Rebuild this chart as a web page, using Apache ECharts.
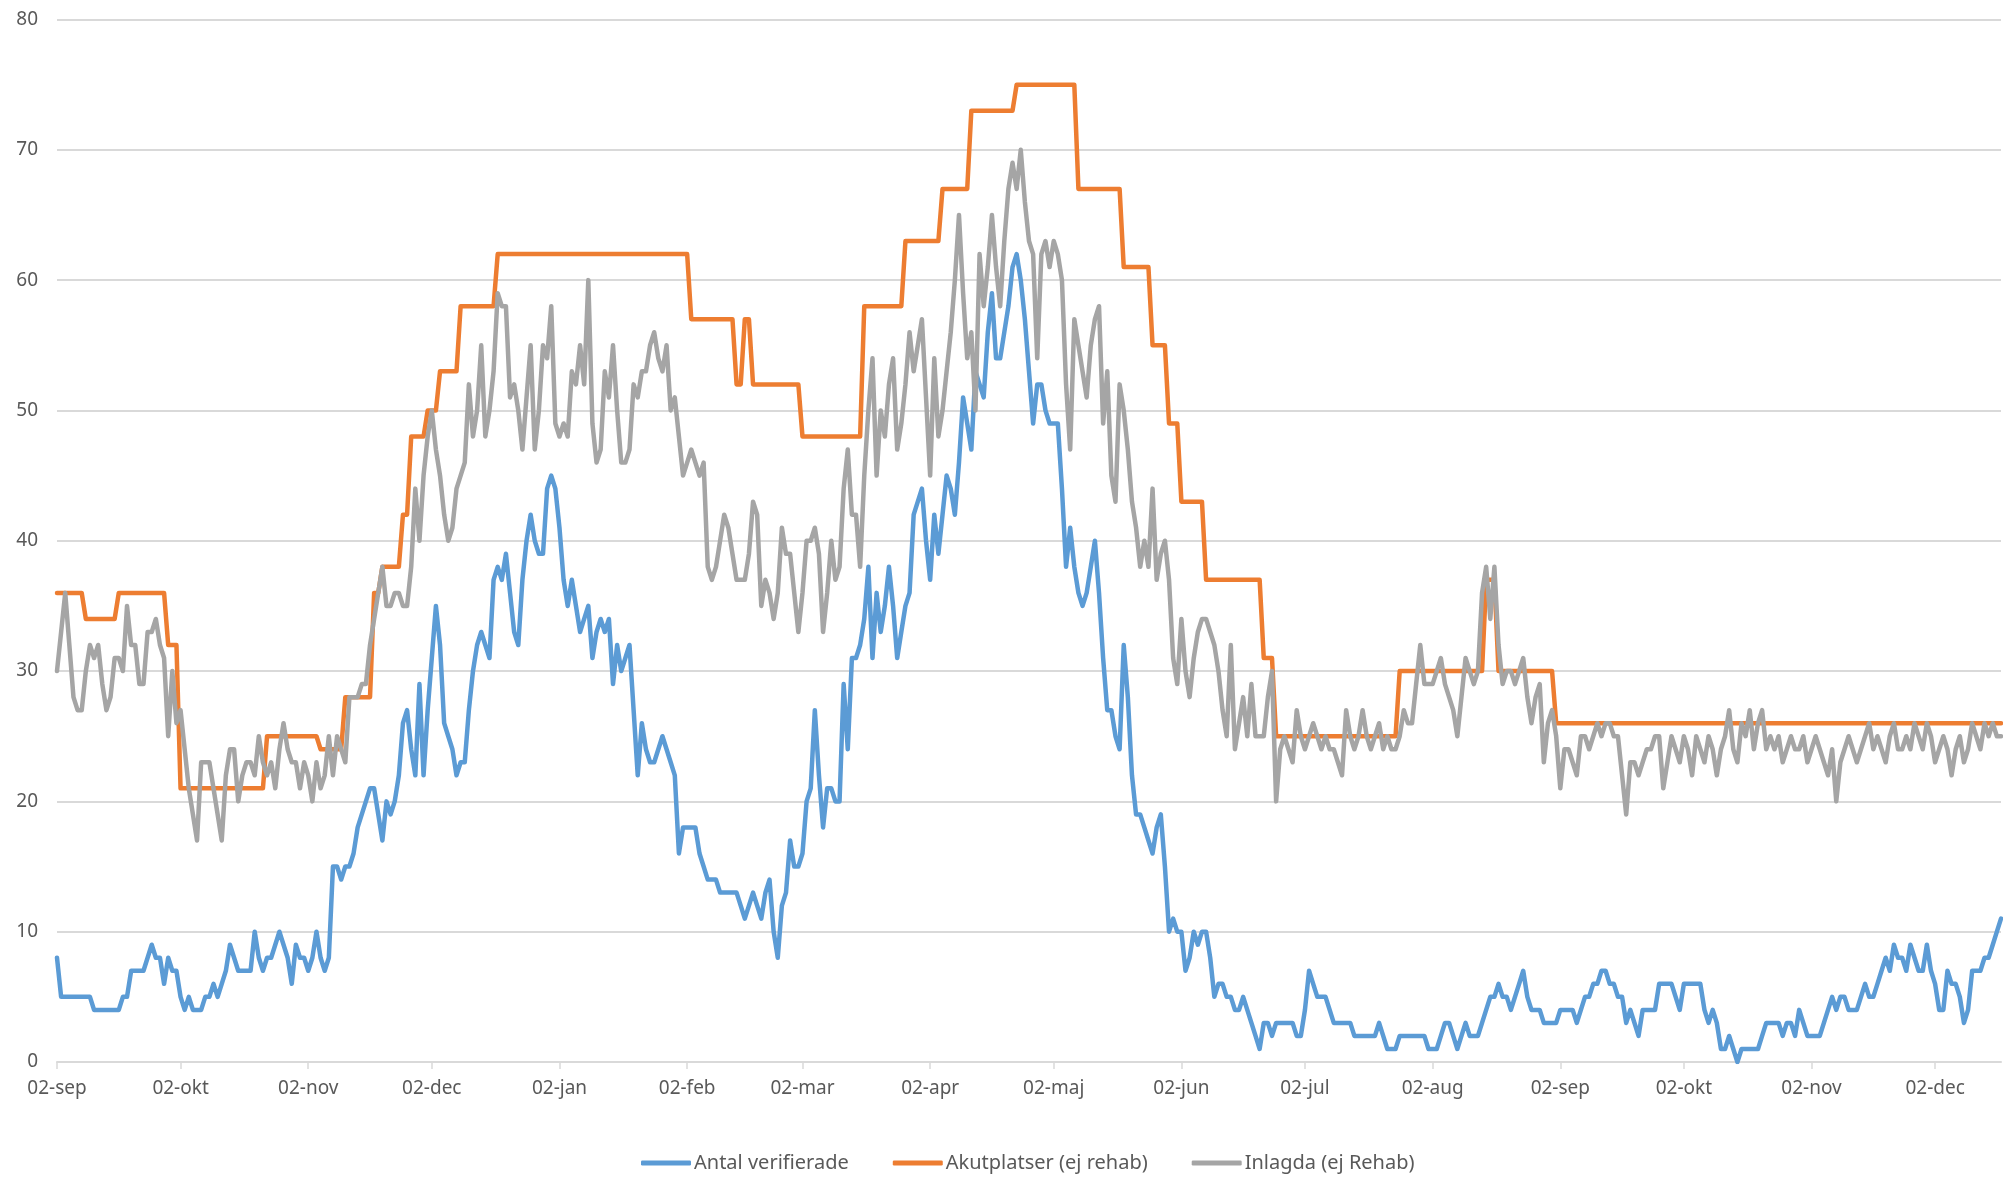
<!DOCTYPE html>
<html><head><meta charset="utf-8">
<script src="https://cdn.jsdelivr.net/npm/echarts@6/dist/echarts.min.js"></script>
<style>html,body{margin:0;padding:0;background:#fff}#c{width:2003px;height:1177px}</style>
</head><body><div id="c"></div>
<script>
// Axis labels
const monthLabels = ['jan','feb','mar','apr','maj','jun','jul','aug','sep','okt','nov','dec'];
const seriesNames = ['Antal verifierade', 'Akutplatser (ej rehab)', 'Inlagda (ej Rehab)'];
const yMin = 0, yMax = 80, yStep = 10;

// Daily values from 02-sep (2020) to mid-december (2021)
const antalVerifierade = [
8,5,5,5,5,5,5,5,5,4,
4,4,4,4,4,4,5,5,7,7,
7,7,8,9,8,8,6,8,7,7,
5,4,5,4,4,4,5,5,6,5,
6,7,9,8,7,7,7,7,10,8,
7,8,8,9,10,9,8,6,9,8,
8,7,8,10,8,7,8,15,15,14,
15,15,16,18,19,20,21,21,19,17,
20,19,20,22,26,27,24,22,29,22,
27,31,35,32,26,25,24,22,23,23,
27,30,32,33,32,31,37,38,37,39,
36,33,32,37,40,42,40,39,39,44,
45,44,41,37,35,37,35,33,34,35,
31,33,34,33,34,29,32,30,31,32,
27,22,26,24,23,23,24,25,24,23,
22,16,18,18,18,18,16,15,14,14,
14,13,13,13,13,13,12,11,12,13,
12,11,13,14,10,8,12,13,17,15,
15,16,20,21,27,22,18,21,21,20,
20,29,24,31,31,32,34,38,31,36,
33,35,38,35,31,33,35,36,42,43,
44,40,37,42,39,42,45,44,42,46,
51,49,47,53,52,51,56,59,54,54,
56,58,61,62,60,57,53,49,52,52,
50,49,49,49,44,38,41,38,36,35,
36,38,40,36,31,27,27,25,24,32,
28,22,19,19,18,17,16,18,19,15,
10,11,10,10,7,8,10,9,10,10,
8,5,6,6,5,5,4,4,5,4,
3,2,1,3,3,2,3,3,3,3,
3,2,2,4,7,6,5,5,5,4,
3,3,3,3,3,2,2,2,2,2,
2,3,2,1,1,1,2,2,2,2,
2,2,2,1,1,1,2,3,3,2,
1,2,3,2,2,2,3,4,5,5,
6,5,5,4,5,6,7,5,4,4,
4,3,3,3,3,4,4,4,4,3,
4,5,5,6,6,7,7,6,6,5,
5,3,4,3,2,4,4,4,4,6,
6,6,6,5,4,6,6,6,6,6,
4,3,4,3,1,1,2,1,0,1,
1,1,1,1,2,3,3,3,3,2,
3,3,2,4,3,2,2,2,2,3,
4,5,4,5,5,4,4,4,5,6,
5,5,6,7,8,7,9,8,8,7,
9,8,7,7,9,7,6,4,4,7,
6,6,5,3,4,7,7,7,8,8,
9,10,11
];

const akutplatser = [
36,36,36,36,36,36,36,34,34,34,
34,34,34,34,34,36,36,36,36,36,
36,36,36,36,36,36,36,32,32,32,
21,21,21,21,21,21,21,21,21,21,
21,21,21,21,21,21,21,21,21,21,
21,25,25,25,25,25,25,25,25,25,
25,25,25,25,24,24,24,24,24,24,
28,28,28,28,28,28,28,36,36,38,
38,38,38,38,42,42,48,48,48,48,
50,50,50,53,53,53,53,53,58,58,
58,58,58,58,58,58,58,62,62,62,
62,62,62,62,62,62,62,62,62,62,
62,62,62,62,62,62,62,62,62,62,
62,62,62,62,62,62,62,62,62,62,
62,62,62,62,62,62,62,62,62,62,
62,62,62,62,57,57,57,57,57,57,
57,57,57,57,57,52,52,57,57,52,
52,52,52,52,52,52,52,52,52,52,
52,48,48,48,48,48,48,48,48,48,
48,48,48,48,48,48,58,58,58,58,
58,58,58,58,58,58,63,63,63,63,
63,63,63,63,63,67,67,67,67,67,
67,67,73,73,73,73,73,73,73,73,
73,73,73,75,75,75,75,75,75,75,
75,75,75,75,75,75,75,75,67,67,
67,67,67,67,67,67,67,67,67,61,
61,61,61,61,61,61,55,55,55,55,
49,49,49,43,43,43,43,43,43,37,
37,37,37,37,37,37,37,37,37,37,
37,37,37,31,31,31,25,25,25,25,
25,25,25,25,25,25,25,25,25,25,
25,25,25,25,25,25,25,25,25,25,
25,25,25,25,25,25,30,30,30,30,
30,30,30,30,30,30,30,30,30,30,
30,30,30,30,30,30,30,37,37,37,
30,30,30,30,30,30,30,30,30,30,
30,30,30,30,26,26,26,26,26,26,
26,26,26,26,26,26,26,26,26,26,
26,26,26,26,26,26,26,26,26,26,
26,26,26,26,26,26,26,26,26,26,
26,26,26,26,26,26,26,26,26,26,
26,26,26,26,26,26,26,26,26,26,
26,26,26,26,26,26,26,26,26,26,
26,26,26,26,26,26,26,26,26,26,
26,26,26,26,26,26,26,26,26,26,
26,26,26,26,26,26,26,26,26,26,
26,26,26,26,26,26,26,26,26,26,
26,26,26
];

const inlagda = [
30,33,36,32,28,27,27,30,32,31,
32,29,27,28,31,31,30,35,32,32,
29,29,33,33,34,32,31,25,30,26,
27,24,21,19,17,23,23,23,21,19,
17,22,24,24,20,22,23,23,22,25,
23,22,23,21,24,26,24,23,23,21,
23,22,20,23,21,22,25,22,25,24,
23,28,28,28,29,29,32,34,36,38,
35,35,36,36,35,35,38,44,40,45,
48,50,47,45,42,40,41,44,45,46,
52,48,50,55,48,50,53,59,58,58,
51,52,50,47,51,55,47,50,55,54,
58,49,48,49,48,53,52,55,52,60,
49,46,47,53,51,55,50,46,46,47,
52,51,53,53,55,56,54,53,55,50,
51,48,45,46,47,46,45,46,38,37,
38,40,42,41,39,37,37,37,39,43,
42,35,37,36,34,36,41,39,39,36,
33,36,40,40,41,39,33,36,40,37,
38,44,47,42,42,38,45,50,54,45,
50,48,52,54,47,49,52,56,53,55,
57,51,45,54,48,50,53,56,60,65,
59,54,56,50,62,58,61,65,61,58,
63,67,69,67,70,66,63,62,54,62,
63,61,63,62,60,52,47,57,55,53,
51,55,57,58,49,53,45,43,52,50,
47,43,41,38,40,38,44,37,39,40,
37,31,29,34,30,28,31,33,34,34,
33,32,30,27,25,32,24,26,28,25,
29,25,25,25,28,30,20,24,25,24,
23,27,25,24,25,26,25,24,25,24,
24,23,22,27,25,24,25,27,25,24,
25,26,24,25,24,24,25,27,26,26,
29,32,29,29,29,30,31,29,28,27,
25,28,31,30,29,30,36,38,34,38,
32,29,30,30,29,30,31,28,26,28,
29,23,26,27,25,21,24,24,23,22,
25,25,24,25,26,25,26,26,25,25,
22,19,23,23,22,23,24,24,25,25,
21,23,25,24,23,25,24,22,25,24,
23,25,24,22,24,25,27,24,23,26,
25,27,24,26,27,24,25,24,25,23,
24,25,24,24,25,23,24,25,24,23,
22,24,20,23,24,25,24,23,24,25,
26,24,25,24,23,25,26,24,24,25,
24,26,25,24,26,25,23,24,25,24,
22,24,25,23,24,26,25,24,26,25,
26,25,25
];

// Category labels (one per day starting 2020-09-02)
const nDays = Math.max(antalVerifierade.length, akutplatser.length, inlagda.length);
const categories = [];
for (let i = 0; i < nDays; i++) {
  const d = new Date(Date.UTC(2020, 8, 2 + i));
  categories.push(String(d.getUTCDate()).padStart(2, '0') + '-' + monthLabels[d.getUTCMonth()]);
}
const isMonthStart = (idx, val) => String(val).indexOf('02-') === 0;

const FONT = '"Noto Sans", "DejaVu Sans", sans-serif';
const chart = echarts.init(document.getElementById('c'), null, {renderer: 'canvas'});
chart.setOption({
  animation: false,
  backgroundColor: '#ffffff',
  grid: {left: 57, right: 2, top: 19.5, bottom: 115, containLabel: false},
  legend: {
    data: seriesNames,
    top: 1148,
    left: 636,
    icon: 'roundRect',
    itemWidth: 50,
    itemHeight: 5,
    itemGap: 44,
    textStyle: {color: '#595959', fontSize: 20, fontFamily: FONT, padding: [0, 0, 0, -2]}
  },
  xAxis: {
    type: 'category',
    data: categories,
    boundaryGap: false,
    axisLine: {show: true, lineStyle: {color: '#D9D9D9', width: 2}},
    axisTick: {show: true, interval: isMonthStart, length: 7, lineStyle: {color: '#D9D9D9', width: 1.5}},
    axisLabel: {interval: isMonthStart, color: '#595959', fontSize: 19, fontFamily: FONT, margin: 17, hideOverlap: false},
    splitLine: {show: false}
  },
  yAxis: {
    type: 'value',
    min: yMin, max: yMax, interval: yStep,
    axisLine: {show: false},
    axisTick: {show: false},
    axisLabel: {color: '#595959', fontSize: 19, fontFamily: FONT, margin: 19},
    splitLine: {lineStyle: {color: '#D9D9D9', width: 2}}
  },
  series: [
    {name: seriesNames[0], type: 'line', data: antalVerifierade, showSymbol: false, symbol: 'none',
     lineStyle: {color: '#5B9BD5', width: 4.5, join: 'round', cap: 'round'}, itemStyle: {color: '#5B9BD5'}, z: 2},
    {name: seriesNames[1], type: 'line', data: akutplatser, showSymbol: false, symbol: 'none',
     lineStyle: {color: '#ED7D31', width: 4.5, join: 'round', cap: 'round'}, itemStyle: {color: '#ED7D31'}, z: 3},
    {name: seriesNames[2], type: 'line', data: inlagda, showSymbol: false, symbol: 'none',
     lineStyle: {color: '#A5A5A5', width: 4.5, join: 'round', cap: 'round'}, itemStyle: {color: '#A5A5A5'}, z: 4}
  ]
});
</script>
</body></html>
